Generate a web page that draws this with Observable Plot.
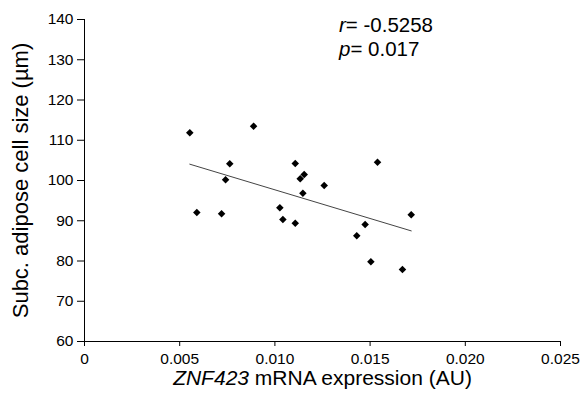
<!DOCTYPE html>
<html>
<head>
<meta charset="utf-8">
<script src="https://cdn.jsdelivr.net/npm/d3@7"></script>
<script src="https://cdn.jsdelivr.net/npm/@observablehq/plot@0.6"></script>
<style>
  html, body { margin: 0; padding: 0; background: #fff; }
  svg { font-family: "Liberation Sans", Arial, sans-serif; }
</style>
</head>
<body>
<div id="chart"></div>
<script>
// ZNF423 mRNA expression (AU)
const expression = [0.00553, 0.00590, 0.00720, 0.00741, 0.00763, 0.00888, 0.01026, 0.01042, 0.01107, 0.01107,
                    0.01133, 0.01154, 0.01147, 0.01259, 0.01430, 0.01474, 0.01504, 0.01539, 0.01670, 0.01716];
// Subc. adipose cell size (µm)
const cellSize = [111.85, 92.05, 91.73, 100.17, 104.15, 113.5, 93.22, 90.3, 104.2, 89.4,
                  100.42, 101.5, 96.84, 98.76, 86.26, 89.07, 79.8, 104.55, 77.9, 91.5];
const yTicks = [60, 70, 80, 90, 100, 110, 120, 130, 140];
const xTicks = [0, 0.005, 0.010, 0.015, 0.020, 0.025];
const stats = [{label: "r", value: "= -0.5258"}, {label: "p", value: "= 0.017"}];

const data = expression.map((x, i) => ({x, y: cellSize[i]}));

// filled diamond (square rotated 45°)
const diamond = {
  draw(context, size) {
    const h = Math.sqrt(size / 2);
    context.moveTo(0, -h);
    context.lineTo(h, 0);
    context.lineTo(0, h);
    context.lineTo(-h, 0);
    context.closePath();
  }
};

const chart = Plot.plot({
  width: 582,
  height: 400,
  marginLeft: 84,
  marginRight: 22,
  marginTop: 19,
  marginBottom: 59,
  style: {fontFamily: "Liberation Sans, Arial, sans-serif", fontSize: "15.5px", color: "#000", background: "#fff"},
  x: {domain: [0, 0.025], ticks: xTicks, tickFormat: d => d === 0 ? "0" : d.toFixed(3),
      tickSize: 5, tickPadding: 6, label: "ZNF423 mRNA expression (AU)", labelArrow: "none",
      labelAnchor: "center", labelOffset: 43},
  y: {domain: [60, 140], ticks: yTicks, tickSize: 7, tickPadding: 4,
      label: "Subc. adipose cell size (µm)", labelArrow: "none", labelAnchor: "center", labelOffset: 72},
  marks: [
    Plot.ruleX([0], {stroke: "#000", strokeWidth: 1}),
    Plot.ruleY([60], {stroke: "#000", strokeWidth: 1}),
    Plot.linearRegressionY(data, {x: "x", y: "y", stroke: "#444", strokeWidth: 1, ci: 0}),
    Plot.dot(data, {x: "x", y: "y", symbol: diamond, r: 3, fill: "#000", stroke: "none"}),
    Plot.text(stats, {text: "value", frameAnchor: "top-left", textAnchor: "start", lineAnchor: "bottom",
      fontSize: 20.5, fill: "#000"})
  ]
});

document.getElementById("chart").appendChild(chart);

// style axis labels & stats with italics
const svg = d3.select(chart);
svg.selectAll('g[aria-label="x-axis label"] text').each(function() {
  const t = d3.select(this);
  t.text(null).style("font-size", "21px");
  t.append("tspan").attr("font-style", "italic").text("ZNF423");
  t.append("tspan").text(" mRNA expression (AU)");
});
svg.selectAll('g[aria-label="y-axis label"] text').style("font-size", "22px");
svg.selectAll('g[aria-label="text"]').attr("transform", null);
svg.selectAll('g[aria-label="text"] text').each(function(_, i) {
  const t = d3.select(this);
  const s = stats[i];
  t.text(null).attr("transform", null).attr("dy", null).attr("x", 339).attr("y", 32 + i * 24);
  t.append("tspan").attr("font-style", "italic").text(s.label);
  t.append("tspan").text(s.value);
});
</script>
</body>
</html>
